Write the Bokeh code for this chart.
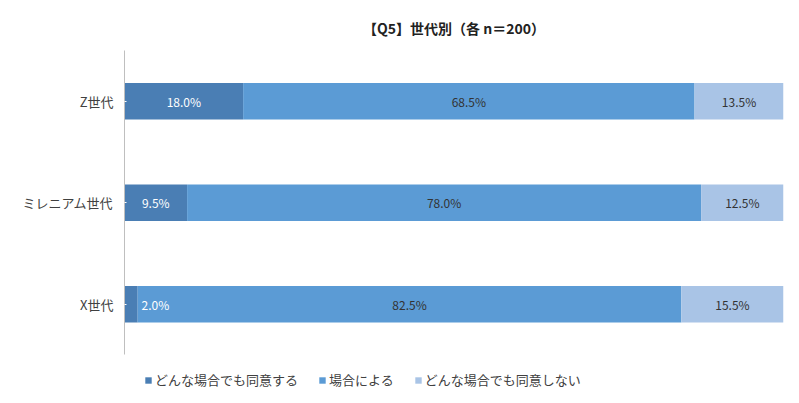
from bokeh.plotting import figure
from bokeh.models import ColumnDataSource, Legend, LegendItem, Range1d, FixedTicker
from bokeh.core.properties import value
from bokeh.embed import file_html
from bokeh.resources import INLINE

generations = ["Z世代", "ミレニアム世代", "X世代"]
series_names = ["どんな場合でも同意する", "場合による", "どんな場合でも同意しない"]
agree_always = [18.0, 9.5, 2.0]
depends = [68.5, 78.0, 82.5]
never_agree = [13.5, 12.5, 15.5]
colors = ["#4A7EB4", "#5B9BD5", "#A9C4E6"]
label_colors = ["#FFFFFF", "#333333", "#333333"]

FONT = "Noto Sans CJK JP"
series = [agree_always, depends, never_agree]

n = len(generations)
ypos = [float(n - 1 - i) for i in range(n)]  # Z世代 on top

p = figure(width=791, height=400, output_backend="svg", toolbar_location=None,
           y_range=Range1d(-0.85, n - 0.5), x_range=(0, 100),
           min_border_left=124, min_border_right=8, min_border_top=50, min_border_bottom=10)

renderers = []
label_sources = []
starts = [0.0] * n
for i, vals in enumerate(series):
    lefts = list(starts)
    rights = [s + v for s, v in zip(starts, vals)]
    mids = [(l + r) / 2 for l, r in zip(lefts, rights)]
    if i == 0:
        mids = [max(m, 4.7) for m in mids]
    src = ColumnDataSource(dict(y=ypos, left=lefts, right=rights, mid=mids,
                                t=["%.1f%%" % v for v in vals]))
    r = p.hbar(y="y", left="left", right="right", height=0.36, source=src,
               fill_color=colors[i], line_color=None)
    renderers.append(r)
    label_sources.append(src)
    starts = rights

for i, src in enumerate(label_sources):
    p.text(x="mid", y="y", text="t", source=src, text_align="center", text_baseline="middle",
           text_font=value(FONT), text_font_size="12px", text_color=label_colors[i])

# keep the x axis in the layout but paint it invisible
p.xaxis.axis_line_color = "#FFFFFF"
p.xaxis.major_tick_line_color = "#FFFFFF"
p.xaxis.minor_tick_line_color = "#FFFFFF"
p.xaxis.major_tick_out = 0
p.xaxis.minor_tick_out = 0
p.xaxis.major_label_text_color = "#FFFFFF"
p.xaxis.major_label_text_font_size = "9px"
p.xaxis.major_label_standoff = 0

p.xgrid.grid_line_color = "#FFFFFF"
p.ygrid.grid_line_color = "#FFFFFF"
p.yaxis.ticker = FixedTicker(ticks=ypos)
p.yaxis.major_label_overrides = {y: g for y, g in zip(ypos, generations)}
p.yaxis.bounds = (-0.5, n - 0.5)
p.yaxis.major_tick_line_color = "#FFFFFF"
p.yaxis.minor_tick_line_color = "#FFFFFF"
p.yaxis.major_tick_out = 0
p.yaxis.minor_tick_out = 0
p.yaxis.axis_line_color = "#BFBFBF"
p.yaxis.major_label_text_font = FONT
p.yaxis.major_label_text_font_size = "13px"
p.yaxis.major_label_text_color = "#404040"
p.yaxis.major_label_standoff = 11
p.outline_line_color = "#FFFFFF"

p.title.text = "【Q5】世代別（各 n＝200）"
p.title.align = "center"
p.title.offset = -22
p.title.standoff = 26
p.title.text_font = FONT
p.title.text_font_size = "14px"
p.title.text_font_style = "bold"
p.title.text_color = "#222222"

legend = Legend(items=[LegendItem(label=series_names[i], renderers=[renderers[i]]) for i in range(3)],
                orientation="horizontal", location=(20, 1),
                label_text_font=FONT, label_text_font_size="13px", label_text_color="#404040",
                glyph_width=8, glyph_height=8, label_standoff=3, spacing=20,
                border_line_alpha=0, background_fill_alpha=0, padding=0, margin=0)
p.add_layout(legend)

open("out.html", "w").write(file_html(p, INLINE))
